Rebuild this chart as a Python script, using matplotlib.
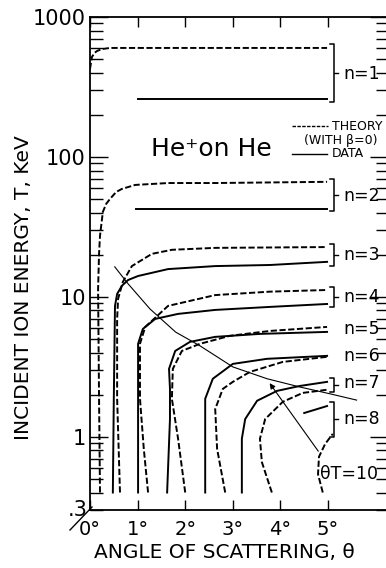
import matplotlib.pyplot as plt
from matplotlib.lines import Line2D
import numpy as np

# theory (dashed) and data (solid) curves, angle in degrees, T in keV
n1_th_x = [0.0, 0.04, 0.1, 0.15, 0.25, 0.42, 1.0, 3.0, 4.98]
n1_th_y = [425, 518, 556, 572, 590, 601, 601, 601, 601]
n1_da_x = [1.0, 4.98]
n1_da_y = [260, 260]

n2_th_x = [0.21, 0.19, 0.17, 0.19, 0.21, 0.27, 0.34, 0.42, 0.55, 0.67, 0.95, 1.64, 2.63, 4.98]
n2_th_y = [0.4, 1.87, 11.4, 20.3, 27.3, 40.5, 46.2, 50.1, 56.2, 59.1, 63.1, 65.1, 65.1, 66.4]
n2_da_x = [0.97, 4.98]
n2_da_y = [42.5, 42.5]

n3_th_x = [0.63, 0.57, 0.57, 0.59, 0.69, 0.88, 1.3, 1.72, 2.63, 4.98]
n3_th_y = [0.4, 1.87, 6.96, 9.68, 12.8, 16.6, 20.3, 21.7, 22.4, 22.7]
n3_da_x = [0.48, 0.50, 0.525, 0.57, 0.67, 0.8, 1.01, 1.64, 2.63, 3.78, 4.98]
n3_da_y = [0.4, 1.87, 8.62, 10.5, 12.0, 13.2, 14.1, 15.8, 16.6, 16.9, 17.8]

n4_th_x = [1.22, 1.13, 1.05, 1.05, 1.16, 1.64, 2.63, 3.78, 4.98]
n4_th_y = [0.4, 0.82, 1.87, 4.62, 6.1, 8.62, 10.3, 10.9, 11.2]
n4_da_x = [1.01, 1.01, 1.11, 1.37, 1.85, 2.63, 3.78, 4.98]
n4_da_y = [0.4, 4.62, 5.9, 6.96, 7.56, 8.07, 8.48, 8.9]

n5_th_x = [2.0, 1.85, 1.72, 1.74, 1.93, 2.31, 2.94, 3.78, 4.98]
n5_th_y = [0.4, 0.97, 1.87, 3.06, 4.11, 4.62, 5.27, 5.71, 6.1]
n5_da_x = [1.62, 1.68, 1.68, 1.66, 1.79, 2.1, 2.63, 3.57, 4.98]
n5_da_y = [0.4, 1.34, 2.2, 3.06, 4.11, 4.77, 5.18, 5.44, 5.62]

n6_th_x = [2.84, 2.67, 2.63, 2.79, 3.0, 3.36, 4.05, 4.98]
n6_th_y = [0.4, 0.82, 1.58, 2.2, 2.47, 2.91, 3.43, 3.73]
n6_da_x = [2.42, 2.42, 2.58, 3.0, 3.72, 4.98]
n6_da_y = [0.4, 1.87, 2.6, 3.32, 3.61, 3.79]

n7_th_x = [3.82, 3.61, 3.57, 3.68, 4.05, 4.47, 4.98]
n7_th_y = [0.4, 0.66, 0.97, 1.34, 1.78, 2.06, 2.17]
n7_da_x = [3.19, 3.19, 3.26, 3.51, 3.93, 4.41, 4.98]
n7_da_y = [0.4, 0.97, 1.34, 1.81, 2.13, 2.31, 2.47]

n8_th_x = [4.89, 4.79, 4.81, 4.94, 5.1]
n8_th_y = [0.4, 0.54, 0.72, 0.89, 1.05]
n8_da_x = [4.5, 4.98]
n8_da_y = [1.48, 1.66]

# theta*T = 10 line
thT_x = [0.52, 0.8, 1.26, 1.8, 2.31, 3.0, 3.72, 4.41, 5.04, 5.6]
thT_y = [16.4, 12.4, 8.2, 5.6, 4.47, 3.16, 2.6, 2.27, 2.03, 1.83]

# brackets: (T top, T bottom, label, label T)
brackets = [(641, 247, 'n=1', 392), (69.7, 41.1, 'n=2', 52.7),
            (23.9, 16.6, 'n=3', 20), (11.8, 8.48, 'n=4', 10),
            (2.64, 2.1, 'n=7', 2.43), (1.78, 1.0, 'n=8', 1.34)]
plain_labels = [('n=5', 5.9), ('n=6', 3.79)]

fig = plt.figure(figsize=(3.86, 5.68), dpi=100)
ax = fig.add_axes([90/386, 58/568, 298/386, 493/568])
ax.set_yscale('log')
ax.set_xlim(0, 6.26)
ax.set_ylim(0.3, 1000)

dash = (0, (3.2, 1.3))
k = 'black'
lw = 1.4
for tx, ty, dx, dy in [(n1_th_x, n1_th_y, n1_da_x, n1_da_y),
                       (n2_th_x, n2_th_y, n2_da_x, n2_da_y),
                       (n3_th_x, n3_th_y, n3_da_x, n3_da_y),
                       (n4_th_x, n4_th_y, n4_da_x, n4_da_y),
                       (n5_th_x, n5_th_y, n5_da_x, n5_da_y),
                       (n6_th_x, n6_th_y, n6_da_x, n6_da_y),
                       (n7_th_x, n7_th_y, n7_da_x, n7_da_y),
                       (n8_th_x, n8_th_y, n8_da_x, n8_da_y)]:
    ax.plot(tx, ty, color=k, lw=lw, ls=dash)
    ax.plot(dx, dy, color=k, lw=lw)

ax.plot(thT_x, thT_y, color=k, lw=0.8)
ax.annotate('', xy=(3.74, 2.51), xytext=(4.83, 0.76),
            arrowprops=dict(arrowstyle='-|>', color=k, lw=0.8, mutation_scale=8))

for top, bot, lab, ly in brackets:
    ax.plot([5.04, 5.13, 5.13, 5.04], [top, top, bot, bot], color=k, lw=1.1, clip_on=False)
    mid = np.sqrt(top * bot)
    ax.plot([5.13, 5.2], [mid, mid], color=k, lw=1.0, clip_on=False)
    ax.text(5.33, ly, lab, fontsize=12.5, va='center', ha='left')
for lab, ly in plain_labels:
    ax.text(5.33, ly, lab, fontsize=12.5, va='center', ha='left')
ax.text(4.84, 0.54, 'θT=10', fontsize=12.5, va='center', ha='left')

# title and legend
ax.text(2.56, 114, 'He⁺on He', fontsize=18, ha='center', va='center')
ax.plot([4.24, 5.0], [166, 166], color=k, lw=1.0, ls=(0, (2.5, 1)))
ax.text(5.08, 166, 'THEORY', fontsize=9, va='center', ha='left')
ax.text(4.5, 132, '(WITH β=0)', fontsize=9, va='center', ha='left')
ax.plot([4.24, 4.98], [105, 105], color=k, lw=1.0)
ax.text(5.08, 105, 'DATA', fontsize=9, va='center', ha='left')

# axes styling
ax.set_xticks([0, 1, 2, 3, 4, 5])
ax.set_xticklabels(['0°', '1°', '2°', '3°', '4°', '5°'], fontsize=14)
ax.set_yticks([1, 10, 100, 1000])
ax.set_yticklabels(['1', '10', '100', '1000'], fontsize=15)
ax.yaxis.set_minor_locator(plt.LogLocator(base=10, subs=np.arange(2, 10)))
ax.yaxis.set_minor_formatter(plt.NullFormatter())
ax.tick_params(axis='x', direction='in', length=7, width=1, top=True, pad=7)
ax.tick_params(axis='y', which='major', direction='in', length=13, width=1, right=True, pad=3)
ax.tick_params(axis='y', which='minor', direction='in', length=9, width=1, right=True)
for s in ax.spines.values():
    s.set_linewidth(1.3)
ax.text(-0.05, 0.3, '.3', fontsize=15, ha='right', va='center')
fig.add_artist(Line2D([70/386, 92/386], [1 - 530/568, 1 - 507/568], color=k, lw=1.0))

fig.text(224/386, 1 - 553/568, 'ANGLE OF SCATTERING, θ', fontsize=14.5, ha='center', va='center')
fig.text(24/386, 1 - 288/568, 'INCIDENT ION ENERGY, T, KeV', fontsize=14.5,
         rotation=90, ha='center', va='center')

fig.savefig('out.png', dpi=100)
